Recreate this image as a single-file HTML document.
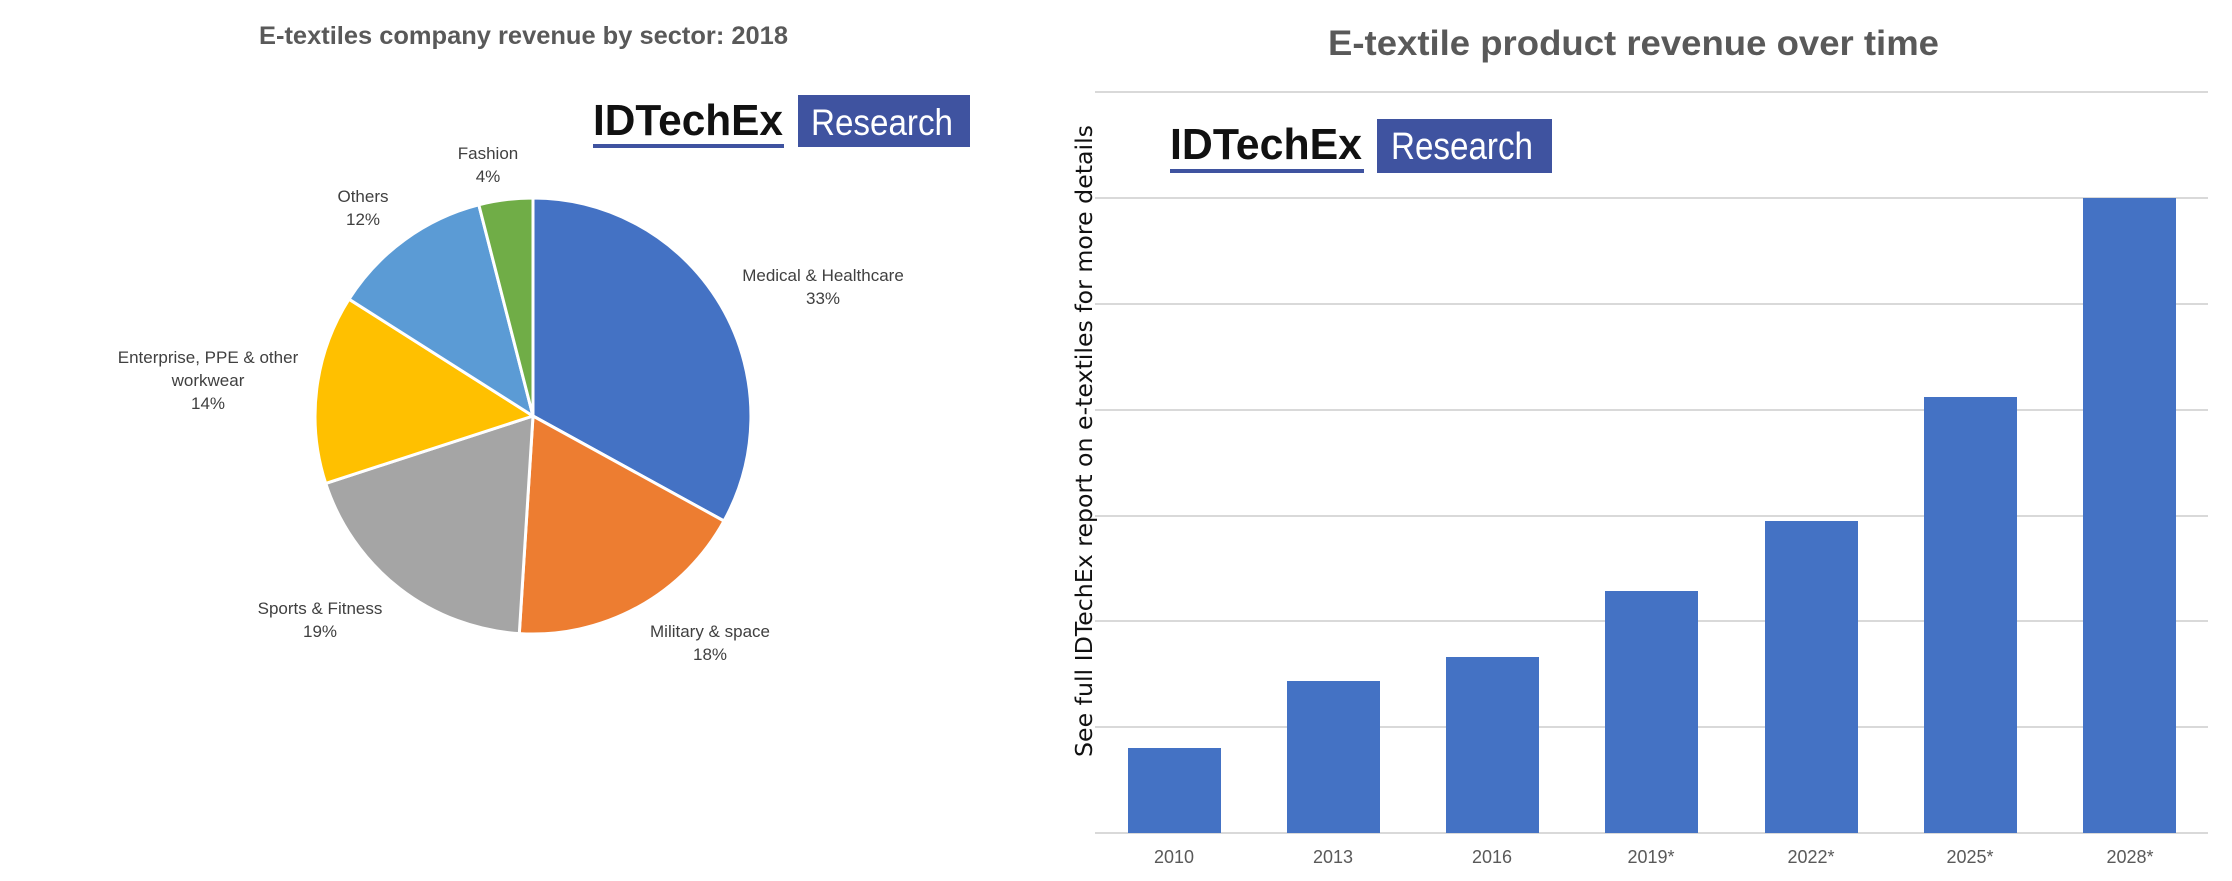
<!DOCTYPE html>
<html><head><meta charset="utf-8"><style>
html,body{margin:0;padding:0;background:#fff;}
svg{display:block;}
</style></head><body>
<svg width="2232" height="881" viewBox="0 0 2232 881" xmlns="http://www.w3.org/2000/svg" font-family="'Liberation Sans', sans-serif">
<rect width="2232" height="881" fill="#fff"/>
<!-- LEFT -->
<text x="259" y="44" font-size="25" font-weight="bold" fill="#595959" textLength="529" lengthAdjust="spacingAndGlyphs">E-textiles company revenue by sector: 2018</text>
<text x="593" y="135" font-size="44" font-weight="bold" fill="#111" textLength="190" lengthAdjust="spacingAndGlyphs">IDTechEx</text>
<rect x="593" y="144" width="191" height="4" fill="#3F53A0"/>
<rect x="798" y="95" width="172" height="52" fill="#3F53A0"/>
<text x="811" y="135" font-size="37" fill="#fff" textLength="142" lengthAdjust="spacingAndGlyphs">Research</text>
<g stroke="#fff" stroke-width="3" stroke-linejoin="round">
<path d="M533,416 L533.0,198.0 A218,218 0 0,1 724.0,521.0 Z" fill="#4472C4"/>
<path d="M533,416 L724.0,521.0 A218,218 0 0,1 519.3,633.6 Z" fill="#ED7D31"/>
<path d="M533,416 L519.3,633.6 A218,218 0 0,1 325.7,483.4 Z" fill="#A5A5A5"/>
<path d="M533,416 L325.7,483.4 A218,218 0 0,1 349.0,299.2 Z" fill="#FFC000"/>
<path d="M533,416 L349.0,299.2 A218,218 0 0,1 478.8,204.8 Z" fill="#5B9BD5"/>
<path d="M533,416 L478.8,204.8 A218,218 0 0,1 533.0,198.0 Z" fill="#70AD47"/>
</g>
<g font-size="17" fill="#404040" text-anchor="middle">
<text x="488" y="159">Fashion</text><text x="488" y="182">4%</text>
<text x="363" y="202">Others</text><text x="363" y="225">12%</text>
<text x="823" y="281">Medical &amp; Healthcare</text><text x="823" y="304">33%</text>
<text x="208" y="363">Enterprise, PPE &amp; other</text><text x="208" y="386">workwear</text><text x="208" y="409">14%</text>
<text x="320" y="614">Sports &amp; Fitness</text><text x="320" y="637">19%</text>
<text x="710" y="637">Military &amp; space</text><text x="710" y="660">18%</text>
</g>
<!-- RIGHT -->
<text x="1328" y="55" font-size="35" font-weight="bold" fill="#595959" textLength="611" lengthAdjust="spacingAndGlyphs">E-textile product revenue over time</text>
<g stroke="#D9D9D9" stroke-width="2">
<line x1="1095" y1="92" x2="2208" y2="92"/>
<line x1="1095" y1="198" x2="2208" y2="198"/>
<line x1="1095" y1="304" x2="2208" y2="304"/>
<line x1="1095" y1="410" x2="2208" y2="410"/>
<line x1="1095" y1="516" x2="2208" y2="516"/>
<line x1="1095" y1="621" x2="2208" y2="621"/>
<line x1="1095" y1="727" x2="2208" y2="727"/>
<line x1="1095" y1="833" x2="2208" y2="833"/>
</g>
<text x="1170" y="159" font-size="44" font-weight="bold" fill="#111" textLength="192" lengthAdjust="spacingAndGlyphs">IDTechEx</text>
<rect x="1170" y="169" width="194" height="4" fill="#3F53A0"/>
<rect x="1377" y="119" width="175" height="54" fill="#3F53A0"/>
<text x="1391" y="159" font-size="38" fill="#fff" textLength="142" lengthAdjust="spacingAndGlyphs">Research</text>
<g fill="#4472C4">
<rect x="1128" y="748" width="93" height="85"/>
<rect x="1287" y="681" width="93" height="152"/>
<rect x="1446" y="657" width="93" height="176"/>
<rect x="1605" y="591" width="93" height="242"/>
<rect x="1765" y="521" width="93" height="312"/>
<rect x="1924" y="397" width="93" height="436"/>
<rect x="2083" y="198" width="93" height="635"/>
</g>
<g font-size="18" fill="#595959" text-anchor="middle">
<text x="1174" y="863">2010</text><text x="1333" y="863">2013</text><text x="1492" y="863">2016</text>
<text x="1651" y="863">2019*</text><text x="1811" y="863">2022*</text><text x="1970" y="863">2025*</text><text x="2130" y="863">2028*</text>
</g>
<text transform="translate(1092,757) rotate(-90)" font-family="'DejaVu Sans', sans-serif" font-size="23" fill="#111" textLength="632" lengthAdjust="spacingAndGlyphs">See full IDTechEx report on e-textiles for more details</text>
</svg>
</body></html>
